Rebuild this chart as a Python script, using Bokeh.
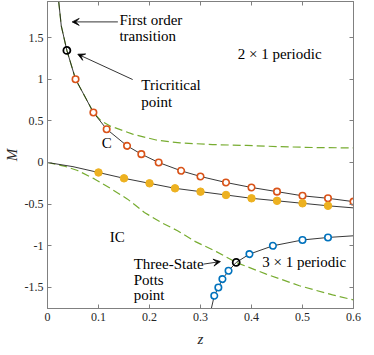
from bokeh.plotting import figure
from bokeh.models import LinearAxis, Range1d, Arrow, VeeHead, FixedTicker
from bokeh.core.properties import value
from bokeh.embed import file_html
from bokeh.resources import INLINE

# ---------------- data ----------------
# commensurate (C) transition line and its DMRG points
c_line_z = [0.022, 0.027, 0.038, 0.055, 0.07, 0.09, 0.116, 0.156, 0.184, 0.218, 0.262,
            0.3, 0.35, 0.4, 0.45, 0.5, 0.55, 0.6]
c_line_M = [1.93, 1.64, 1.345, 1.0, 0.83, 0.6, 0.4, 0.2, 0.1, 0.0, -0.1,
            -0.168, -0.24, -0.3, -0.35, -0.4, -0.43, -0.47]
c_pts_z = [0.055, 0.09, 0.116, 0.156, 0.184, 0.218, 0.262, 0.3, 0.35, 0.4, 0.45, 0.5, 0.55, 0.6]
c_pts_M = [1.0, 0.6, 0.4, 0.2, 0.1, 0.0, -0.1, -0.168, -0.24, -0.3, -0.35, -0.4, -0.43, -0.47]

# middle line (yellow points)
y_line_z = [0.0, 0.05, 0.1, 0.15, 0.2, 0.25, 0.3, 0.35, 0.4, 0.45, 0.5, 0.55, 0.6]
y_line_M = [0.0, -0.05, -0.12, -0.19, -0.25, -0.31, -0.35, -0.39, -0.43, -0.46, -0.49, -0.52, -0.545]
y_pts_z = [0.1, 0.15, 0.2, 0.25, 0.3, 0.35, 0.4, 0.45, 0.5, 0.55]
y_pts_M = [-0.12, -0.19, -0.25, -0.31, -0.35, -0.39, -0.43, -0.46, -0.49, -0.52]

# 3x1 periodic boundary (blue points)
b_line_z = [0.321, 0.327, 0.335, 0.343, 0.355, 0.37, 0.396, 0.442, 0.5, 0.55, 0.6]
b_line_M = [-1.76, -1.6, -1.5, -1.4, -1.3, -1.2, -1.1, -1.0, -0.93, -0.9, -0.88]
b_pts_z = [0.327, 0.335, 0.343, 0.355, 0.396, 0.442, 0.5, 0.55]
b_pts_M = [-1.6, -1.5, -1.4, -1.3, -1.1, -1.0, -0.93, -0.9]

# green dashed curves
g_up_z = [0.022, 0.027, 0.038, 0.055, 0.07, 0.09, 0.105, 0.122, 0.167, 0.213, 0.26,
          0.324, 0.39, 0.455, 0.52, 0.6]
g_up_M = [1.93, 1.64, 1.345, 1.0, 0.83, 0.6, 0.5, 0.44, 0.34, 0.27, 0.235,
          0.215, 0.205, 0.19, 0.18, 0.175]
g_lo_z = [0.0, 0.033, 0.059, 0.092, 0.125, 0.157, 0.19, 0.223, 0.255, 0.29, 0.331,
          0.37, 0.429, 0.494, 0.559, 0.6]
g_lo_M = [0.0, -0.044, -0.096, -0.197, -0.317, -0.44, -0.6, -0.72, -0.82, -0.95, -1.07,
          -1.2, -1.34, -1.48, -1.59, -1.65]

# special points (tricritical, three-state Potts)
special_z = [0.038, 0.37]
special_M = [1.345, -1.2]

xticks = [0, 0.1, 0.2, 0.3, 0.4, 0.5, 0.6]
xtick_labels = ["0", "0.1", "0.2", "0.3", "0.4", "0.5", "0.6"]
yticks = [-1.5, -1, -0.5, 0, 0.5, 1, 1.5]
ytick_labels = ["-1.5", "-1", "-0.5", "0", "0.5", "1", "1.5"]

# ---------------- styling ----------------
SERIF = "Liberation Serif"
AX = "#808080"
RED = "#D95319"
YEL = "#EDB120"
BLU = "#0072BD"
GRN = "#77AC30"

p = figure(frame_width=306, frame_height=307, output_backend="svg", toolbar_location=None,
           x_range=Range1d(0, 0.6), y_range=Range1d(-1.753, 1.933),
           min_border_left=40, min_border_right=12, min_border_top=1, min_border_bottom=31,
           background_fill_color="white", border_fill_color="white")
p.grid.visible = False
p.outline_line_color = AX

for ax, ticks, labels in ((p.xaxis[0], xticks, xtick_labels), (p.yaxis[0], yticks, ytick_labels)):
    ax.ticker = FixedTicker(ticks=ticks)
    ax.major_label_overrides = {float(t): l for t, l in zip(ticks, labels)}
    ax.major_tick_in = 4
    ax.major_tick_out = 0
    ax.minor_tick_line_color = None
    ax.axis_line_color = AX
    ax.major_tick_line_color = AX
    ax.major_label_text_font = SERIF
    ax.major_label_text_font_size = "12px"
    ax.major_label_text_color = "#262626"
    ax.axis_label_text_font = SERIF
    ax.axis_label_text_font_style = "italic"
    ax.axis_label_text_font_size = "15px"
    ax.axis_label_text_color = "#262626"

p.xaxis.axis_label = "z"
p.yaxis.axis_label = "M"
p.xaxis.major_label_standoff = 4
p.xaxis.axis_label_standoff = 7
p.yaxis.major_label_standoff = 4
p.yaxis.axis_label_standoff = 2

# mirrored tick marks on the top and right (box on), no labels
for side, ticks in (("above", xticks), ("right", yticks)):
    a = LinearAxis(ticker=FixedTicker(ticks=ticks), major_tick_in=4, major_tick_out=0,
                   minor_tick_line_color=None, axis_line_color=AX, major_tick_line_color=AX,
                   major_label_overrides={float(t): "" for t in ticks},
                   major_label_standoff=0)
    p.add_layout(a, side)

# lines
p.line(g_up_z, g_up_M, line_color=GRN, line_width=1.2, line_dash="8 4")
p.line(g_lo_z, g_lo_M, line_color=GRN, line_width=1.2, line_dash="8 4")
p.line(c_line_z, c_line_M, line_color="#222222", line_width=0.9)
p.line(y_line_z, y_line_M, line_color="#222222", line_width=0.9)
p.line(b_line_z, b_line_M, line_color="#222222", line_width=0.9)

# markers
p.scatter(c_pts_z, c_pts_M, marker="circle", size=6.5, fill_color="white",
          line_color=RED, line_width=1.6)
p.scatter(y_pts_z, y_pts_M, marker="circle", size=7.5, fill_color=YEL, line_color=YEL)
p.scatter(b_pts_z, b_pts_M, marker="circle", size=6.5, fill_color="white",
          line_color=BLU, line_width=1.6)
p.scatter(special_z, special_M, marker="circle", size=7, fill_color=None,
          line_color="black", line_width=1.8)

# annotations
def txt(x, y, s, align="left"):
    p.text(x=[x], y=[y], text=[s], text_font=value(SERIF), text_font_size="15px",
           text_color="black", text_align=align, text_baseline="middle")

txt(0.141, 1.71, "First order")
txt(0.141, 1.52, "transition")
txt(0.184, 0.926, "Tricritical")
txt(0.184, 0.73, "point")
txt(0.116, 0.24, "C", "center")
txt(0.373, 1.297, "2 × 1 periodic")
txt(0.122, -0.9, "IC")
txt(0.169, -1.22, "Three-State")
txt(0.169, -1.416, "Potts")
txt(0.169, -1.596, "point")
txt(0.421, -1.2, "3 × 1 periodic")

for xs, ys, xe, ye in ((0.138, 1.688, 0.0484, 1.688),
                       (0.167, 0.996, 0.0594, 1.30),
                       (0.306, -1.22, 0.339, -1.19)):
    p.add_layout(Arrow(end=VeeHead(size=7, fill_color="black", line_color="black", line_width=0.8),
                       x_start=xs, y_start=ys, x_end=xe, y_end=ye,
                       line_color="black", line_width=0.8))

open("out.html", "w").write(file_html(p, INLINE))
